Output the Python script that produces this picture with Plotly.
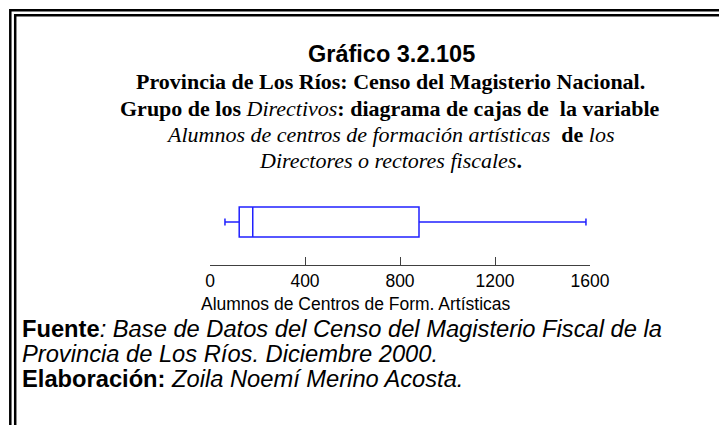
"""Diagrama de cajas - Directivos, Los Rios"""

import plotly.graph_objects as go

# datos
grupo = ["Directores o rectores fiscales"]
minimo = [63]
q1 = [123]
mediana = [180]
q3 = [880]
maximo = [1583]
ticks_x = [0, 400, 800, 1200, 1600]

titulo = "Gráfico 3.2.105"
subtitulo = [
    "<b>Provincia de Los Ríos: Censo del Magisterio Nacional.</b>",
    "<b>Grupo de los </b><i>Directivos</i><b>: diagrama de cajas de  la variable</b>",
    "<i>Alumnos de centros de formación artísticas</i><b>  de </b><i>los</i>",
    "<i>Directores o rectores fiscales</i><b>.</b>",
]
eje_x = "Alumnos de Centros de Form. Artísticas"
pie = [
    "<b>Fuente</b><i>: Base de Datos del Censo del Magisterio Fiscal de la</i>",
    "<i>Provincia de Los Ríos. Diciembre 2000.</i>",
    "<b>Elaboración:</b><i> Zoila Noemí Merino Acosta.</i>",
]

# la pagina tiene 8 px de margen en el body
OFF = 8
W, H = 727 - OFF, 425 - OFF
# bordes del area de trazado en coordenadas de la captura
X0, X1, Y0, Y1 = 210, 590, 200, 265


def px_x(px):
    return (px - X0) / (X1 - X0)


def px_y(py):
    return (Y1 - py) / (Y1 - Y0)


fig = go.Figure()
fig.add_trace(go.Box(
    y=[0], q1=q1, median=mediana, q3=q3,
    lowerfence=minimo, upperfence=maximo,
    orientation="h", width=1, whiskerwidth=0.24,
    fillcolor="rgba(0,0,0,0)",
    line=dict(color="#2020ff", width=1.5),
    name=grupo[0], showlegend=False, hoverinfo="skip",
))

fig.update_layout(
    width=W, height=H,
    margin=dict(l=X0 - OFF, r=W - (X1 - OFF), t=Y0 - OFF, b=H - (Y1 - OFF)),
    paper_bgcolor="white", plot_bgcolor="white",
    xaxis=dict(
        range=[0, 1600], tickvals=ticks_x, ticks="inside", ticklen=8,
        tickcolor="#404040", showline=True, linecolor="#404040", linewidth=1,
        showgrid=False, zeroline=False,
        tickfont=dict(family="Liberation Sans", size=17.5, color="black"),
    ),
    yaxis=dict(range=[-1.4333, 0.7333], visible=False),
)

anns = []
anns.append(dict(text="<b>" + titulo + "</b>", x=px_x(391), y=px_y(54),
                 font=dict(family="Liberation Sans", size=23.5, color="black")))
for i, s in enumerate(subtitulo):
    anns.append(dict(text=s, x=px_x(390), y=px_y(82 + 26 * i),
                     font=dict(family="Liberation Serif", size=22, color="black")))
anns.append(dict(text=eje_x, x=px_x(356), y=px_y(304),
                 font=dict(family="Liberation Sans", size=17.5, color="black")))
for i, s in enumerate(pie):
    anns.append(dict(text=s, x=px_x(20), y=px_y(329 + 25 * i), xanchor="left",
                     font=dict(family="Liberation Sans", size=23.7, color="black")))
for a in anns:
    a.update(xref="paper", yref="paper", showarrow=False, yanchor="middle")
    a.setdefault("xanchor", "center")
fig.update_layout(annotations=anns)

# marco doble
for p in [10.3, 15.2]:
    fig.add_shape(type="line", xref="paper", yref="paper",
                  x0=px_x(p), x1=px_x(W + 20), y0=px_y(p), y1=px_y(p),
                  line=dict(color="black", width=2.5))
    fig.add_shape(type="line", xref="paper", yref="paper",
                  x0=px_x(p), x1=px_x(p), y0=px_y(p - 1.2), y1=px_y(H + 20),
                  line=dict(color="black", width=2.5))

fig.write_html("out.html")
